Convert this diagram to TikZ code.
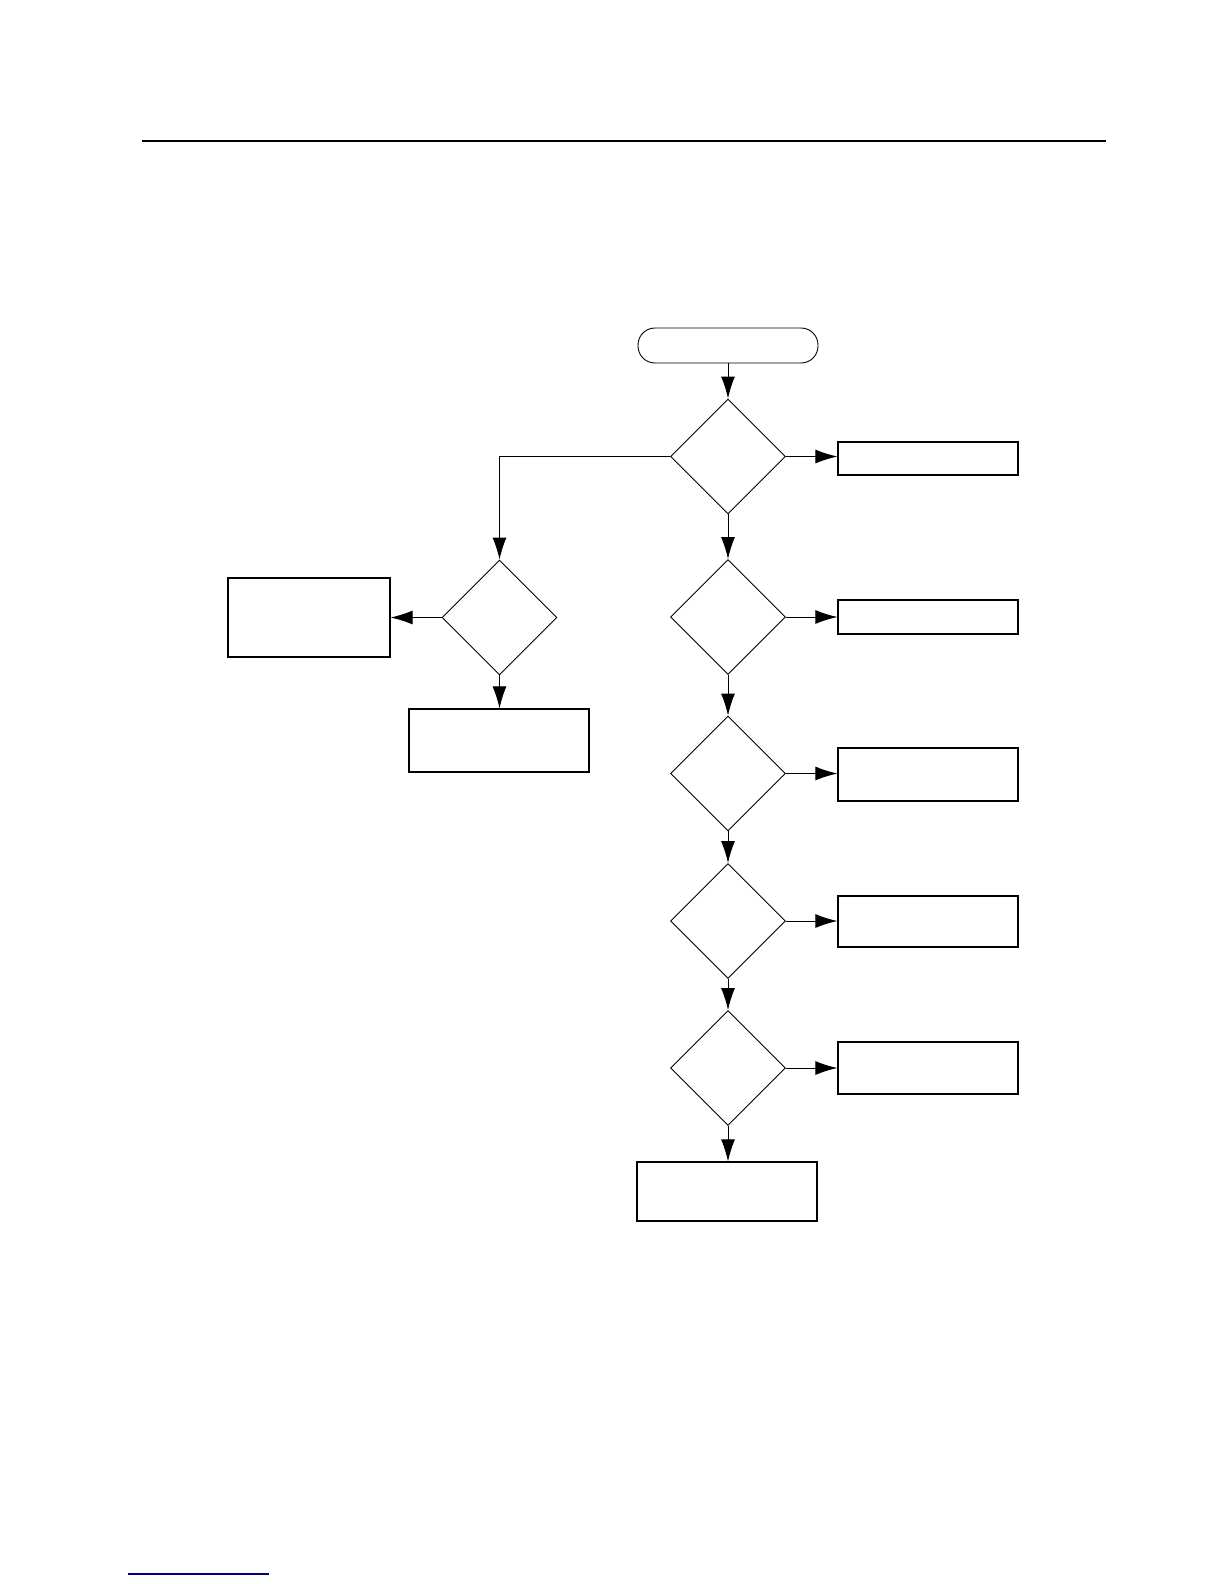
\documentclass[tikz,border=0pt]{standalone}
\usepackage{tikz}
\usetikzlibrary{arrows.meta,positioning,shapes.geometric}

\begin{document}
\begin{tikzpicture}[
      x=1pt,y=-1pt,
      every node/.style={font=\footnotesize},
      box/.style={draw,line width=1.2pt,minimum width=180pt,inner sep=0pt},
      choice/.style={draw,diamond,aspect=1,line width=0.9pt,minimum size=115pt,inner sep=0pt},
      term/.style={draw,rounded corners=17pt,line width=0.9pt,
                   minimum width=180pt,minimum height=35pt,inner sep=0pt},
      arr/.style={-{Latex[length=22pt,width=14pt]},line width=1pt},
    ]
      \useasboundingbox[fill=white] (0,0) rectangle (1224,1584);
      \draw[line width=2pt] (142,141) -- (1106,141);
      \draw[line width=1.2pt,blue!50!black] (128,1574) -- (269,1574);

      \node[term]  (start) at (728,345.5) {};
      \node[choice] (dec1) at (728,456.5) {};
      \node[choice] (dec2) at (728,617)   {};
      \node[choice] (dec3) at (728,773.5) {};
      \node[choice] (dec4) at (728,921)   {};
      \node[choice] (dec5) at (728,1068)  {};
      \node[choice] (decL) at (499.5,617.5) {};

      \node[box,minimum height=33pt] (out1) at (928,458.5) {};
      \node[box,minimum height=34pt] (out2) at (928,617)   {};
      \node[box,minimum height=53pt] (out3) at (928,774.5) {};
      \node[box,minimum height=51pt] (out4) at (928,921.5) {};
      \node[box,minimum height=52pt] (out5) at (928,1068)  {};
      \node[box,minimum width=162pt,minimum height=79pt] (outL) at (309,617.5) {};
      \node[box,minimum height=63pt] (outB)  at (499,740.5)  {};
      \node[box,minimum height=59pt] (final) at (727,1191.5) {};

      \draw[arr] (start) -- (dec1);
      \draw[arr] (dec1.east) -- (dec1.east -| out1.west);
      \draw[arr] (dec1.west) -- (decL |- dec1.west) -- (decL.north);
      \draw[arr] (dec1.south) -- (dec2.north);
      \draw[arr] (dec2.east) -- (dec2.east -| out2.west);
      \draw[arr] (dec2.south) -- (dec3.north);
      \draw[arr] (dec3.east) -- (dec3.east -| out3.west);
      \draw[arr] (dec3.south) -- (dec4.north);
      \draw[arr] (dec4.east) -- (dec4.east -| out4.west);
      \draw[arr] (dec4.south) -- (dec5.north);
      \draw[arr] (dec5.east) -- (dec5.east -| out5.west);
      \draw[arr] (dec5.south) -- (final.north -| dec5.south);
      \draw[arr] (decL.west) -- (decL.west -| outL.east);
      \draw[arr] (decL.south) -- (outB.north -| decL.south);
    \end{tikzpicture}
\end{document}
